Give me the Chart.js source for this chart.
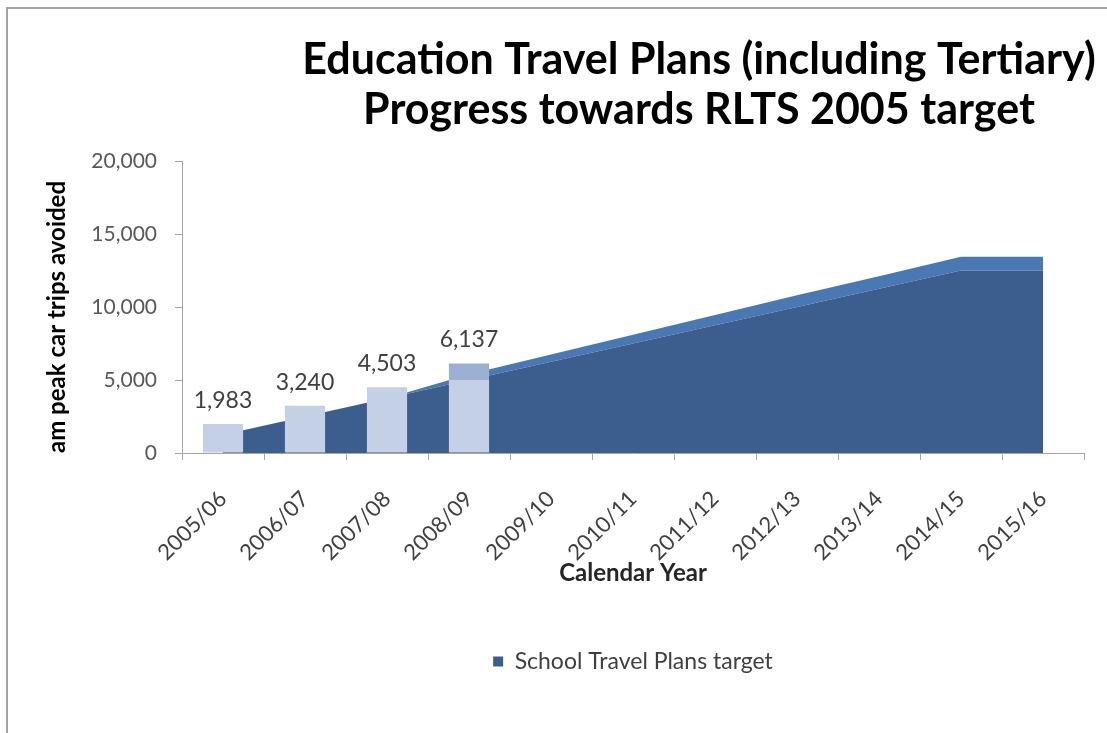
<!DOCTYPE html>
<html>
<head>
<meta charset="utf-8">
<title>Education Travel Plans</title>
<script src="https://cdn.jsdelivr.net/npm/chart.js@4.4.1/dist/chart.umd.min.js"></script>
<style>
  body { margin: 0; background: #fff; }
  #wrap { position: relative; width: 1107px; height: 733px; overflow: hidden; }
  #frame { position: absolute; left: 6px; top: 7px; width: 1200px; height: 800px;
           border-left: 2px solid #a4a4a4; border-top: 2px solid #a4a4a4; }
  #grafico { position: absolute; left: 0; top: 0; }
</style>
</head>
<body>
<div id="wrap">
  <div id="frame"></div>
  <canvas id="grafico" width="1107" height="733"></canvas>
</div>
<script>
const years = ['2005/06', '2006/07', '2007/08', '2008/09', '2009/10', '2010/11',
               '2011/12', '2012/13', '2013/14', '2014/15', '2015/16'];

// targets (am peak car trips avoided)
const schoolTarget = [1250, 2500, 3750, 5000, 6250, 7500, 8750, 10000, 11250, 12500, 12500];
const tertiaryTarget = [0, 0, 0, 400, 500, 600, 700, 800, 850, 950, 950];

// achieved so far
const actualTotal = [1983, 3240, 4503, 6137];
const actualSchools = [1983, 3240, 4503, 5000];
const actualTertiary = actualTotal.map((t, i) => (t - actualSchools[i]) || null);

const yTicks = [0, 5000, 10000, 15000, 20000];

const titleLines = ['Education Travel Plans (including Tertiary)', 'Progress towards RLTS 2005 target'];

const FONT = 'Lato, "Open Sans", sans-serif';
const AXIS_GREY = '#a6a6a6';

// two-line heading, sits over the right part of the plot
const tituloPlugin = {
  id: 'tituloPlugin',
  afterDraw(chart) {
    const ctx = chart.ctx;
    ctx.save();
    ctx.fillStyle = '#000';
    ctx.font = 'bold 43px ' + FONT;
    ctx.textAlign = 'center';
    ctx.textBaseline = 'alphabetic';
    ctx.fillText(titleLines[0], 699, 74);
    ctx.fillText(titleLines[1], 699, 124);
    ctx.restore();
  }
};

// totals written above the achieved bars
const rotulosPlugin = {
  id: 'rotulosPlugin',
  afterDatasetsDraw(chart) {
    const ctx = chart.ctx;
    const baixo = chart.getDatasetMeta(2);
    const cima = chart.getDatasetMeta(3);
    ctx.save();
    ctx.fillStyle = '#404040';
    ctx.font = '23px ' + FONT;
    ctx.textAlign = 'center';
    ctx.textBaseline = 'alphabetic';
    actualTotal.forEach((total, i) => {
      const el = actualTertiary[i] ? cima.data[i] : baixo.data[i];
      ctx.fillText(total.toLocaleString('en-US'), el.x, el.y - 16);
    });
    ctx.restore();
  }
};

const grafico = new Chart(document.getElementById('grafico'), {
  type: 'bar',
  data: {
    labels: years,
    datasets: [
      {
        type: 'line',
        label: 'School Travel Plans target',
        data: schoolTarget,
        stack: 'target',
        order: 1,
        fill: 'origin',
        backgroundColor: '#3b5e8f',
        borderColor: '#3b5e8f',
        borderWidth: 0,
        pointRadius: 0,
        tension: 0
      },
      {
        type: 'line',
        label: 'Tertiary Travel Plans target',
        data: tertiaryTarget,
        stack: 'target',
        order: 1,
        fill: '-1',
        backgroundColor: '#4a78b2',
        borderColor: '#4a78b2',
        borderWidth: 0,
        pointRadius: 0,
        tension: 0
      },
      {
        label: 'Schools achieved',
        data: actualSchools,
        stack: 'actual',
        order: 0,
        backgroundColor: '#c4d0e5',
        borderWidth: 0,
        categoryPercentage: 1,
        barPercentage: 0.49
      },
      {
        label: 'Tertiary achieved',
        data: actualTertiary,
        stack: 'actual',
        order: 0,
        backgroundColor: '#9bb0d2',
        borderWidth: 0,
        categoryPercentage: 1,
        barPercentage: 0.49
      }
    ]
  },
  options: {
    responsive: false,
    animation: false,
    layout: { padding: { left: 30, right: 23, top: 161, bottom: 50 } },
    plugins: {
      title: { display: false },
      tooltip: { enabled: false },
      legend: {
        position: 'bottom',
        fullSize: false,
        labels: {
          filter: item => item.text === 'School Travel Plans target',
          boxWidth: 10,
          boxHeight: 10,
          padding: 10,
          color: '#404040',
          font: { family: FONT, size: 23 }
        }
      }
    },
    scales: {
      x: {
        stacked: true,
        offset: true,
        grid: {
          offset: true,
          drawOnChartArea: false,
          color: AXIS_GREY,
          tickLength: 7
        },
        border: { color: AXIS_GREY },
        ticks: {
          autoSkip: false,
          maxRotation: 45,
          minRotation: 45,
          padding: 26,
          color: '#404040',
          font: { family: FONT, size: 22 }
        },
        title: {
          display: true,
          text: 'Calendar Year',
          color: '#262626',
          padding: { top: 0, bottom: 52 },
          font: { family: FONT, size: 24, weight: 'bold' }
        },
        afterFit: s => { s.height = 187; }
      },
      y: {
        stacked: true,
        min: 0,
        max: 20000,
        afterBuildTicks: s => { s.ticks = yTicks.map(v => ({ value: v })); },
        grid: {
          drawOnChartArea: false,
          color: AXIS_GREY,
          tickLength: 7
        },
        border: { color: AXIS_GREY },
        ticks: {
          padding: 18,
          color: '#595959',
          font: { family: FONT, size: 21 },
          callback: v => v.toLocaleString('en-US')
        },
        title: {
          display: true,
          text: 'am peak car trips avoided',
          align: 'start',
          color: '#000',
          padding: { top: 13, bottom: 0 },
          font: { family: FONT, size: 24, weight: 'bold' }
        },
        afterFit: s => { s.width = 152; }
      }
    }
  },
  plugins: [tituloPlugin, rotulosPlugin]
});
</script>
</body>
</html>
